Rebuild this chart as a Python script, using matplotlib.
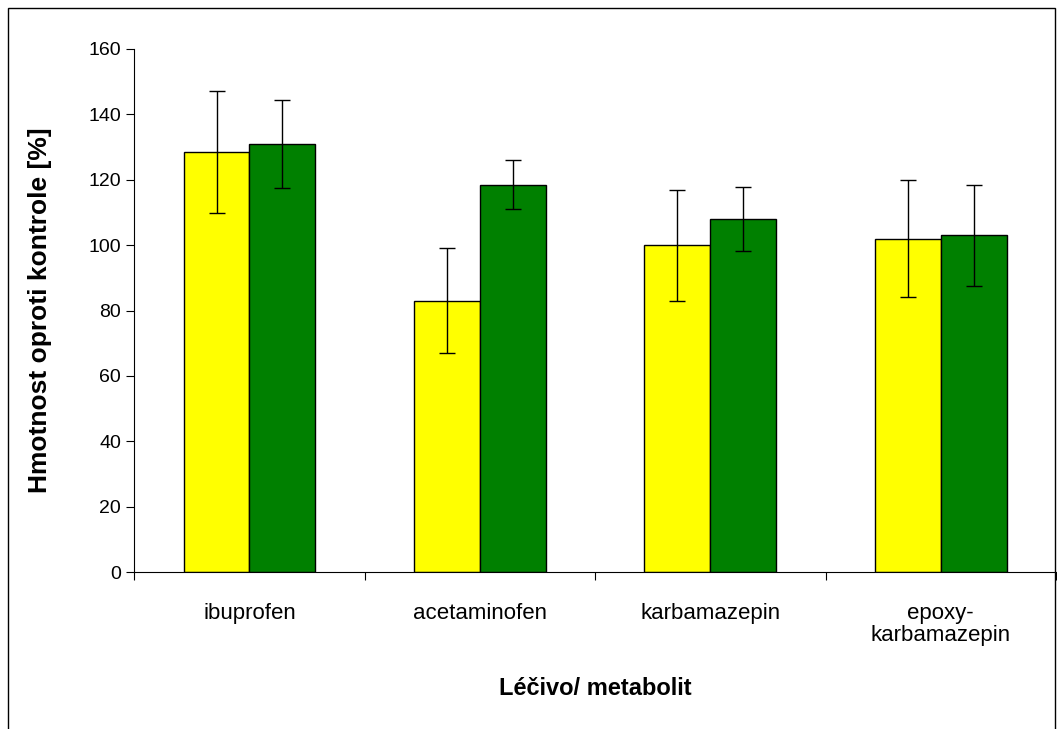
import matplotlib.pyplot as plt
import numpy as np
from matplotlib.patches import Rectangle

categories = ['ibuprofen', 'acetaminofen', 'karbamazepin', 'epoxy-\nkarbamazepin']
yellow_vals = [128.5, 83.0, 100.0, 102.0]
yellow_err = [18.7, 16.0, 17.0, 18.0]
green_vals = [131.0, 118.5, 108.0, 103.0]
green_err = [13.5, 7.5, 9.8, 15.5]

plt.rcParams['font.family'] = ['Liberation Sans', 'DejaVu Sans']
fig = plt.figure(figsize=(10.57, 7.29), dpi=100)
fig.patches.append(Rectangle((0.008, -0.01), 0.99, 0.999, transform=fig.transFigure,
                             fill=False, edgecolor='black', lw=1))
ax = fig.add_axes([0.127, 0.215, 0.872, 0.718])

x = np.arange(len(categories))
w = 0.286
err_style = dict(ecolor='black', capsize=6, elinewidth=1, capthick=1)
ax.bar(x - w/2, yellow_vals, w, yerr=yellow_err, color='#ffff00', edgecolor='black', lw=1, error_kw=err_style)
ax.bar(x + w/2, green_vals, w, yerr=green_err, color='#008000', edgecolor='black', lw=1, error_kw=err_style)

ax.set_xlim(-0.5, len(categories) - 0.5)
ax.set_ylim(0, 160)
ax.set_yticks(range(0, 161, 20))
ax.set_xticks(np.arange(-0.5, len(categories), 1.0))
ax.set_xticklabels([])
ax.set_xticks(x, minor=True)
ax.set_xticklabels(categories, minor=True, fontsize=16, va='top', linespacing=1.1)
ax.tick_params(axis='x', which='minor', length=0, pad=22)
ax.tick_params(axis='x', which='major', length=6, direction='out')
ax.tick_params(axis='y', labelsize=14, length=6, direction='out')
for s in ['top', 'right']:
    ax.spines[s].set_visible(False)
ax.set_ylabel('Hmotnost oproti kontrole [%]', fontsize=19, fontweight='bold', labelpad=26)
ax.set_xlabel('Léčivo/ metabolit', fontsize=17, fontweight='bold', labelpad=22)

fig.savefig('out.png', dpi=100)
